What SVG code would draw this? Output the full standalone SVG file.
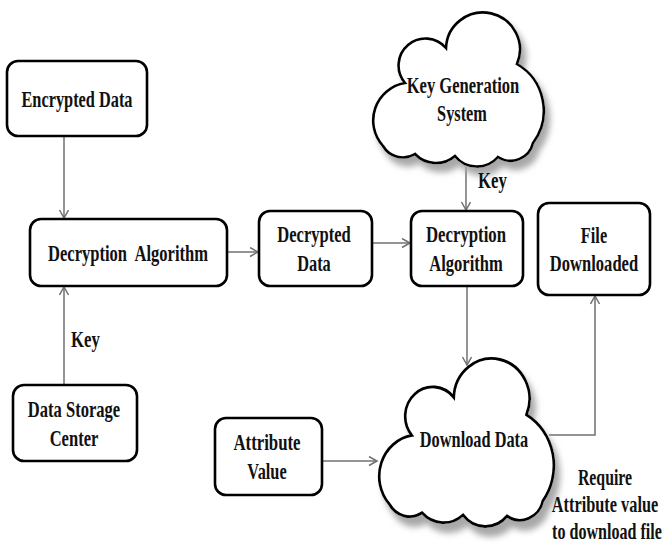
<svg xmlns="http://www.w3.org/2000/svg" width="664" height="546" viewBox="0 0 664 546">
<style>
.box{fill:#fff;stroke:#000;stroke-width:2.6}
.cloud{fill:#fff;stroke:#000;stroke-width:2.6}
.t{font-family:"Liberation Serif","DejaVu Serif","Times New Roman",serif;font-weight:bold;font-size:24px;fill:#111;text-anchor:middle}
.lbl{font-family:"Liberation Serif","DejaVu Serif","Times New Roman",serif;font-weight:bold;font-size:24px;fill:#111}
.c{fill:none;stroke:#707070;stroke-width:1.5}
</style>
<defs>
<marker id="ah" markerUnits="userSpaceOnUse" markerWidth="12" markerHeight="12" refX="9" refY="5" orient="auto">
<path d="M1,0.5 L9,5 L1,9.5" fill="none" stroke="#707070" stroke-width="1.5"/>
</marker>
<filter id="sh" x="-20%" y="-20%" width="150%" height="150%">
<feGaussianBlur in="SourceAlpha" stdDeviation="3"/>
<feOffset dx="5" dy="8" result="b"/>
<feFlood flood-color="#a8a8a8"/>
<feComposite in2="b" operator="in"/>
<feMerge><feMergeNode/><feMergeNode in="SourceGraphic"/></feMerge>
</filter>
<path id="cloudShape" d="M405,83 A24,24 0 0 1 446,48 A37,37 0 1 1 517,64 A54,54 0 0 1 533,143 A23,23 0 0 1 498,157 A28,28 0 0 1 455,156 A29,29 0 0 1 415,154 A23,23 0 0 1 383,146 A38,38 0 0 1 405,83 Z"/>
</defs>
<rect width="664" height="546" fill="#fff"/>

<g id="connectors">
<path class="c" d="M64,136 V218" marker-end="url(#ah)"/>
<path class="c" d="M64,385 V287" marker-end="url(#ah)"/>
<path class="c" d="M227,252 H258" marker-end="url(#ah)"/>
<path class="c" d="M372,243 H410" marker-end="url(#ah)"/>
<path class="c" d="M466,165 V210" marker-end="url(#ah)"/>
<path class="c" d="M467,286 V365" marker-end="url(#ah)"/>
<path class="c" d="M322,461 H377" marker-end="url(#ah)"/>
<path class="c" d="M549,435 H595 V296" marker-end="url(#ah)"/>
</g>

<g id="encrypted-data">
<rect class="box" x="7" y="61" width="140" height="75" rx="11"/>
<text class="t" transform="translate(77,107) scale(0.68,1)">Encrypted Data</text>
</g>

<g id="decryption-algorithm-1">
<rect class="box" x="30" y="219" width="197" height="67" rx="11"/>
<text class="t" xml:space="preserve" transform="translate(128,261) scale(0.69,1)">Decryption  Algorithm</text>
</g>

<g id="data-storage-center">
<rect class="box" x="13" y="385" width="124" height="76" rx="11"/>
<text class="t" transform="translate(74,417) scale(0.69,1)">Data Storage</text>
<text class="t" transform="translate(74,446) scale(0.69,1)">Center</text>
</g>

<g id="decrypted-data">
<rect class="box" x="259" y="211" width="113" height="75" rx="11"/>
<text class="t" transform="translate(314,242) scale(0.69,1)">Decrypted</text>
<text class="t" transform="translate(314,271) scale(0.68,1)">Data</text>
</g>

<g id="decryption-algorithm-2">
<rect class="box" x="411" y="211" width="112" height="75" rx="11"/>
<text class="t" transform="translate(466,242) scale(0.7,1)">Decryption</text>
<text class="t" transform="translate(466,271) scale(0.69,1)">Algorithm</text>
</g>

<g id="file-downloaded">
<rect class="box" x="538" y="203" width="112" height="92" rx="11"/>
<text class="t" transform="translate(594,243) scale(0.68,1)">File</text>
<text class="t" transform="translate(594,271) scale(0.69,1)">Downloaded</text>
</g>

<g id="attribute-value">
<rect class="box" x="215" y="418" width="107" height="77" rx="11"/>
<text class="t" transform="translate(267,450) scale(0.7,1)">Attribute</text>
<text class="t" transform="translate(267,479) scale(0.68,1)">Value</text>
</g>

<g id="key-generation-system">
<use href="#cloudShape" class="cloud" filter="url(#sh)"/>
<text class="t" transform="translate(463,93) scale(0.69,1)">Key Generation</text>
<text class="t" transform="translate(462,121) scale(0.68,1)">System</text>
</g>

<g id="download-data">
<use href="#cloudShape" class="cloud" filter="url(#sh)" transform="translate(-2.93,344.92) scale(1.024,1.09)" stroke-width="2.45"/>
<text class="t" transform="translate(474,447) scale(0.68,1)">Download Data</text>
</g>

<g id="labels">
<text class="lbl" transform="translate(71,347) scale(0.7,1)">Key</text>
<text class="lbl" transform="translate(478,188) scale(0.7,1)">Key</text>
<text class="t" transform="translate(605,485) scale(0.66,1)">Require</text>
<text class="t" transform="translate(605,512) scale(0.68,1)">Attribute value</text>
<text class="t" transform="translate(607,539) scale(0.67,1)">to download file</text>
</g>
</svg>
